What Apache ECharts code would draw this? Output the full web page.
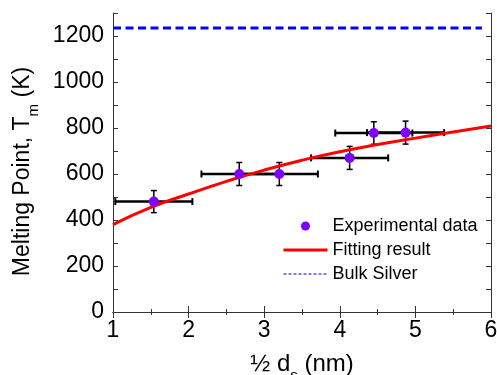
<!DOCTYPE html>
<html>
<head>
<meta charset="utf-8">
<script src="https://cdn.jsdelivr.net/npm/echarts@6/dist/echarts.min.js"></script>
<style>
  html, body { margin: 0; padding: 0; background: #fff; }
  #chart { width: 497px; height: 375px; }
</style>
</head>
<body>
<div id="chart"></div>
<script>
// measured points: x = 1/2 d_s (nm), y = T_m (K)
const expX = [1.54, 2.67, 3.20, 4.13, 4.45, 4.87]
const expY = [480, 600, 600, 670, 778, 780]
const xErr = [0.51, 0.50, 0.51, 0.51, 0.51, 0.51]
const yErr = [48, 50, 50, 50, 49, 50]
// fitted curve
const fitX = [1, 1.5, 2, 2.5, 3, 3.5, 4, 4.5, 5, 5.5, 6]
const fitY = [380, 455, 513, 568, 617, 660, 697, 728, 756, 783, 809]
// bulk silver melting point
const bulkX = [1, 5.88]
const bulkT = 1235
const yTicks = [0, 200, 400, 600, 800, 1000, 1200]

const FONT = 'Liberation Sans, Arial, sans-serif'
const axisColor = '#333'

const myChart = echarts.init(document.getElementById('chart'))

const sub = { fontSize: 15, fontFamily: FONT, color: '#000', padding: [22, 0, 0, 0] }
const hideSymbol = { opacity: 0 }

myChart.setOption({
    animation: false,
    grid: {
        left: 113,
        right: 6,
        top: 13,
        bottom: 63,
        outerBoundsMode: 'none'
    },
    legend: {
        orient: 'vertical',
        left: 282,
        top: 217,
        padding: 0,
        itemWidth: 44,
        itemHeight: 9,
        itemGap: 6,
        textStyle: { fontSize: 18, fontFamily: FONT, color: '#000' },
        data: [
            { name: 'Experimental data', icon: 'circle' },
            { name: 'Fitting result', lineStyle: { width: 3 }, itemStyle: hideSymbol },
            { name: 'Bulk Silver', lineStyle: { width: 1.2, type: [3, 2], color: '#0000c8' }, itemStyle: hideSymbol }
        ]
    },
    xAxis: [
        {
            type: 'value',
            min: 1,
            max: 6,
            interval: 1,
            name: '½ d{sub|s} (nm)',
            nameLocation: 'middle',
            nameGap: 34,
            nameTextStyle: {
                fontSize: 24, fontFamily: FONT, color: '#000',
                rich: { sub: sub }
            },
            axisLine: { lineStyle: { color: axisColor, width: 1 } },
            axisTick: { inside: true, length: 6, lineStyle: { color: axisColor } },
            minorTick: { show: true, splitNumber: 2, length: 3, lineStyle: { color: axisColor } },
            axisLabel: { fontSize: 23, fontFamily: FONT, color: '#000', margin: 7 },
            splitLine: { show: false }
        },
        {
            type: 'value',
            position: 'top',
            min: 1,
            max: 6,
            interval: 1,
            axisLine: { lineStyle: { color: axisColor, width: 1 } },
            axisTick: { inside: true, length: 6, lineStyle: { color: axisColor } },
            minorTick: { show: true, splitNumber: 2, length: 3, lineStyle: { color: axisColor } },
            axisLabel: { show: false },
            splitLine: { show: false }
        }
    ],
    yAxis: [
        {
            type: 'value',
            min: 0,
            max: 1300,
            interval: 100,
            name: 'Melting Point, T{sub|m} (K)',
            nameLocation: 'middle',
            nameGap: 72,
            nameTextStyle: {
                fontSize: 23, fontFamily: FONT, color: '#000',
                padding: [0, 18, 0, 0],
                rich: { sub: sub }
            },
            axisLine: { show: true, lineStyle: { color: axisColor, width: 1 } },
            axisTick: { show: true, inside: true, length: 5, lineStyle: { color: axisColor } },
            axisLabel: {
                fontSize: 23, fontFamily: FONT, color: '#000', margin: 9,
                formatter: v => yTicks.indexOf(v) >= 0 ? String(v) : ''
            },
            splitLine: { show: false }
        },
        {
            type: 'value',
            position: 'right',
            min: 0,
            max: 1300,
            interval: 100,
            axisLine: { show: true, lineStyle: { color: axisColor, width: 1 } },
            axisTick: { show: true, inside: true, length: 5, lineStyle: { color: axisColor } },
            axisLabel: { show: false },
            splitLine: { show: false }
        }
    ],
    series: [
        {
            name: 'errors',
            type: 'custom',
            z: 2,
            encode: { x: 0, y: 1 },
            data: expX.map((x, i) => [x, expY[i], xErr[i], yErr[i]]),
            renderItem(params, api) {
                const x = api.value(0), y = api.value(1)
                const dx = api.value(2), dy = api.value(3)
                const l = api.coord([x - dx, y])
                const r = api.coord([x + dx, y])
                const t = api.coord([x, y + dy])
                const b = api.coord([x, y - dy])
                const thick = { stroke: '#000', lineWidth: 2.5 }
                const thin = { stroke: '#000', lineWidth: 1.5 }
                const cap = { stroke: '#000', lineWidth: 2 }
                return {
                    type: 'group',
                    children: [
                        { type: 'line', shape: { x1: l[0], y1: l[1], x2: r[0], y2: r[1] }, style: thick },
                        { type: 'line', shape: { x1: l[0], y1: l[1] - 3.5, x2: l[0], y2: l[1] + 3.5 }, style: cap },
                        { type: 'line', shape: { x1: r[0], y1: r[1] - 3.5, x2: r[0], y2: r[1] + 3.5 }, style: cap },
                        { type: 'line', shape: { x1: t[0], y1: t[1], x2: b[0], y2: b[1] }, style: thin },
                        { type: 'line', shape: { x1: t[0] - 3, y1: t[1], x2: t[0] + 3, y2: t[1] }, style: thin },
                        { type: 'line', shape: { x1: b[0] - 3, y1: b[1], x2: b[0] + 3, y2: b[1] }, style: thin }
                    ]
                }
            }
        },
        {
            name: 'Fitting result',
            type: 'line',
            z: 3,
            smooth: true,
            symbol: 'none',
            color: '#ff0000',
            lineStyle: { color: '#ff0000', width: 3 },
            data: fitX.map((x, i) => [x, fitY[i]])
        },
        {
            name: 'Bulk Silver',
            type: 'line',
            z: 3,
            symbol: 'none',
            color: '#0000ff',
            lineStyle: { color: '#0000ff', width: 3, type: [8, 4.5] },
            data: bulkX.map(x => [x, bulkT])
        },
        {
            name: 'Experimental data',
            type: 'scatter',
            z: 4,
            symbol: 'circle',
            symbolSize: 10,
            itemStyle: { color: '#7f00ff', opacity: 1 },
            data: expX.map((x, i) => [x, expY[i]])
        }
    ]
})
</script>
</body>
</html>
